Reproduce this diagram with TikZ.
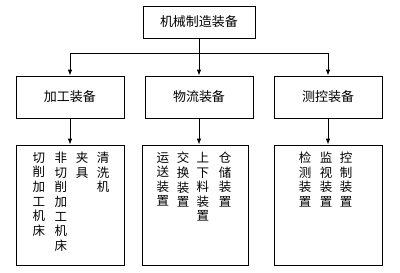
\documentclass[tikz,border=0pt]{standalone}
\usepackage{fontspec}
\newfontfamily\cjk{Noto Sans CJK SC}
\usetikzlibrary{arrows.meta}
\begin{document}
\begin{tikzpicture}[x=1pt,y=-1pt,
  box/.style={draw,line width=0.8pt,inner sep=0,font=\cjk\fontsize{13}{15}\selectfont},
  vtext/.style={font=\cjk\fontsize{12.5}{14.6}\selectfont,align=center,anchor=north,inner sep=0},
  conn/.style={line width=0.8pt},
  arr/.style={conn,-{Latex[length=6pt,width=4.5pt]}}]
\useasboundingbox (0,0) rectangle (400,273);
% top
\node[box,minimum width=112pt,minimum height=32pt] (top) at (199,22) {机械制造装备};
% row 2
\node[box,minimum width=108pt,minimum height=42pt] (b1) at (70,97) {加工装备};
\node[box,minimum width=108pt,minimum height=42pt] (b2) at (199,97) {物流装备};
\node[box,minimum width=108pt,minimum height=42pt] (b3) at (328,97) {测控装备};
% row 3
\node[box,minimum width=108pt,minimum height=120pt] (c1) at (70,205) {};
\node[box,minimum width=106pt,minimum height=120pt] (c2) at (195,205) {};
\node[box,minimum width=108pt,minimum height=120pt] (c3) at (328,205) {};
% connectors
\coordinate (j) at (199,53);
\draw[conn] (top.south) -- (j);
\draw[conn] (b1 |- j) -- (b3 |- j);
\draw[arr] (b1 |- j) -- (b1.north);
\draw[arr] (j) -- (b2.north);
\draw[arr] (b3 |- j) -- (b3.north);
\draw[arr] (b1.south) -- (b1.south |- c1.north);
\draw[arr] (b2.south) -- (b2.south |- c2.north);
\draw[arr] (b3.south) -- (b3.south |- c3.north);
% vertical texts
\node[vtext] (t11) at (39,152) {切\\削\\加\\工\\机\\床};
\node[vtext] (t12) at (61,152) {非\\切\\削\\加\\工\\机\\床};
\node[vtext] (t13) at (82,152) {夹\\具};
\node[vtext] (t14) at (103,152) {清\\洗\\机};
\node[vtext] (t21) at (163,152) {运\\送\\装\\置};
\node[vtext] (t22) at (183,152) {交\\换\\装\\置};
\node[vtext] (t23) at (203,152) {上\\下\\料\\装\\置};
\node[vtext] (t24) at (225,152) {仓\\储\\装\\置};
\node[vtext] (t31) at (305,152) {检\\测\\装\\置};
\node[vtext] (t32) at (326,152) {监\\视\\装\\置};
\node[vtext] (t33) at (346,152) {控\\制\\装\\置};
\end{tikzpicture}
\end{document}
